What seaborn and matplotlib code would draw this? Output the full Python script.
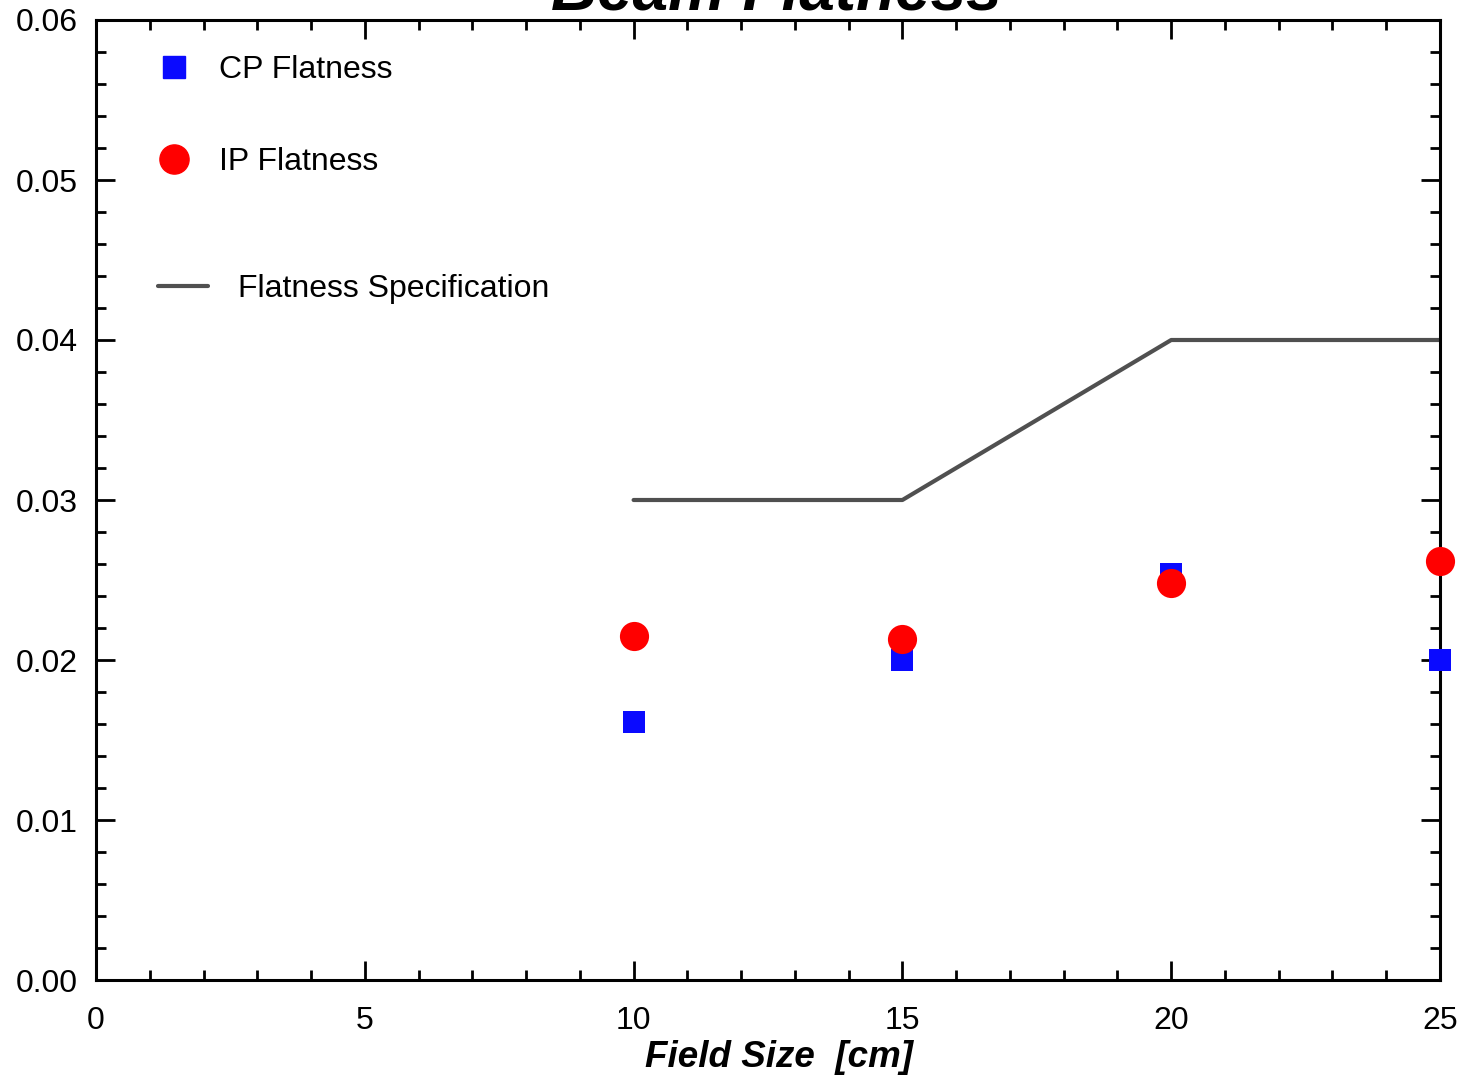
import matplotlib
matplotlib.use("Agg")
import matplotlib.pyplot as plt
import seaborn as sns
import pandas as pd
from matplotlib.lines import Line2D
from matplotlib.ticker import MultipleLocator, FormatStrFormatter

# data
field_size = [10, 15, 20, 25]
cp_flatness = [0.0161, 0.0200, 0.0254, 0.0200]
ip_flatness = [0.0215, 0.0213, 0.0248, 0.0262]
spec_x = [10, 15, 20, 25]
spec_y = [0.030, 0.030, 0.040, 0.040]

df_cp = pd.DataFrame({"x": field_size, "y": cp_flatness})
df_ip = pd.DataFrame({"x": field_size, "y": ip_flatness})
df_spec = pd.DataFrame({"x": spec_x, "y": spec_y})

sns.set_theme(style="white")
plt.rcParams['font.family'] = ['Liberation Sans', 'DejaVu Sans']
plt.rcParams['text.color'] = 'black'
plt.rcParams['axes.labelcolor'] = 'black'
plt.rcParams['xtick.color'] = 'black'
plt.rcParams['ytick.color'] = 'black'

fig = plt.figure(figsize=(14.67, 10.81), dpi=100)
ax = fig.add_axes([96/1467, 1-980/1081, (1440-96)/1467, (980-20)/1081])

sns.lineplot(data=df_spec, x="x", y="y", ax=ax, color="#505050", linewidth=3, zorder=2)
sns.scatterplot(data=df_cp, x="x", y="y", ax=ax, marker="s", color="#0a0aff",
                s=16**2, linewidth=0, zorder=3, clip_on=False)
sns.scatterplot(data=df_ip, x="x", y="y", ax=ax, marker="o", color="#ff0000",
                s=21**2, linewidth=0, zorder=4, clip_on=False)

ax.set_xlim(0, 25)
ax.set_ylim(0, 0.06)
ax.xaxis.set_major_locator(MultipleLocator(5))
ax.xaxis.set_minor_locator(MultipleLocator(1))
ax.yaxis.set_major_locator(MultipleLocator(0.01))
ax.yaxis.set_minor_locator(MultipleLocator(0.002))
ax.yaxis.set_major_formatter(FormatStrFormatter('%.2f'))
ax.xaxis.set_major_formatter(FormatStrFormatter('%d'))

ax.tick_params(which='both', direction='in', top=True, right=True, bottom=True, left=True,
               color='black', width=2, labelcolor='black')
ax.tick_params(which='major', length=14, labelsize=23)
ax.tick_params(which='minor', length=7)
ax.tick_params(axis='x', which='major', pad=19)
ax.tick_params(axis='y', which='major', pad=13)
for sp in ax.spines.values():
    sp.set_linewidth(2.2)
    sp.set_color('black')

ax.set_xlabel("Field Size  [cm]", fontsize=26.5, fontweight='bold', fontstyle='italic',
              color='black')
ax.set_ylabel("")
ax.xaxis.set_label_coords(0.508, -0.062)

fig.text(0.529, 1 - 10/1081, "Beam Flatness", fontsize=46, fontweight='bold',
         fontstyle='italic', ha='center', va='baseline', color='black')

h1 = [Line2D([], [], marker='s', color='#0a0aff', linestyle='None', markersize=16),
      Line2D([], [], marker='o', color='#ff0000', linestyle='None', markersize=21)]
leg1 = ax.legend(h1, ["CP Flatness", "IP Flatness"], loc='upper left',
                 bbox_to_anchor=(0.020, 0.997), frameon=False, fontsize=23,
                 handlelength=1.2, handletextpad=0.81, labelspacing=1.94, borderaxespad=0.6)
for t in leg1.get_texts():
    t.set_color('black')
ax.add_artist(leg1)
h2 = [Line2D([], [], color='#505050', linewidth=3)]
leg2 = ax.legend(h2, ["Flatness Specification"], loc='upper left',
                 bbox_to_anchor=(0.0224, 0.769), frameon=False, fontsize=23,
                 handlelength=1.57, handletextpad=0.92, borderaxespad=0.6)
for t in leg2.get_texts():
    t.set_color('black')

fig.savefig("out.png", dpi=100)
